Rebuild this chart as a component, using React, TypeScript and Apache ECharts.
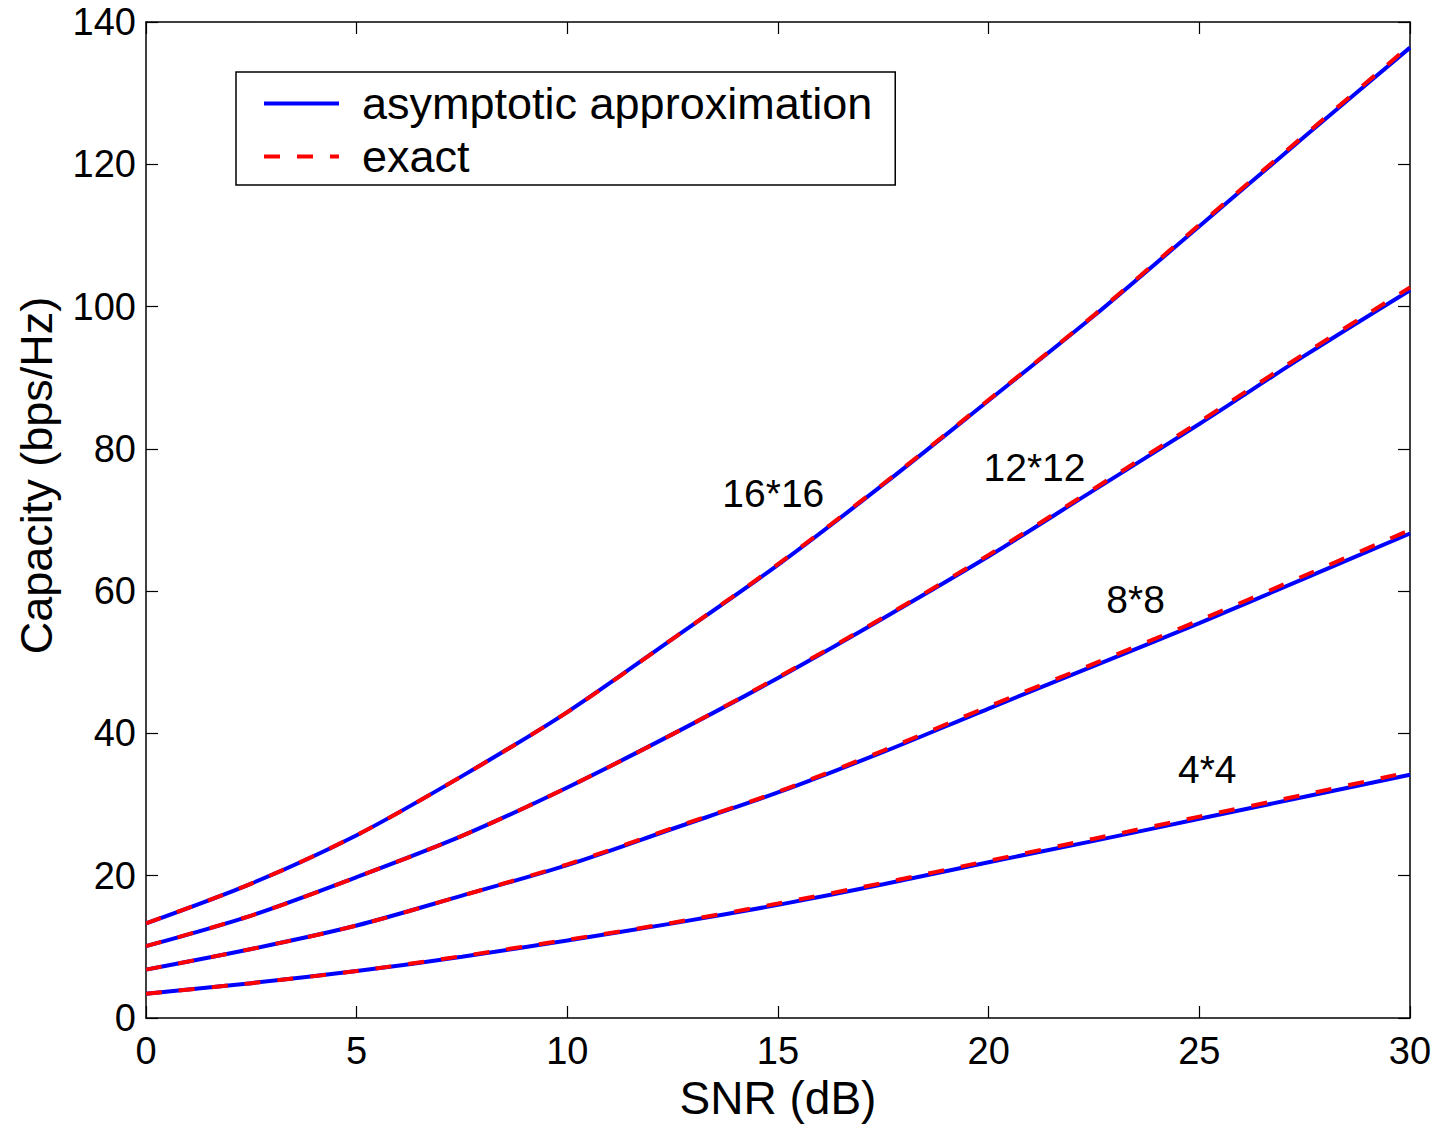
import React, { useEffect, useRef } from "react";
import * as echarts from "echarts";

const snr = [0, 2.5, 5, 7.5, 10, 12.5, 15, 17.5, 20, 22.5, 25, 27.5, 30];

const asym16 = [13.3, 18.9, 25.7, 34.0, 43.0, 53.3, 63.7, 75.0, 86.8, 98.7, 111.3, 123.9, 136.4];
const exact16 = [13.3, 18.9, 25.7, 34.0, 43.0, 53.3, 63.8, 75.1, 86.9, 98.8, 111.5, 124.1, 136.7];
const asym12 = [10.1, 14.4, 19.8, 25.6, 32.4, 39.9, 47.8, 56.2, 64.9, 74.2, 83.5, 93.1, 102.3];
const exact12 = [10.1, 14.4, 19.8, 25.6, 32.4, 39.9, 47.9, 56.3, 65.1, 74.4, 83.8, 93.4, 102.7];
const asym8 = [6.8, 9.7, 13.0, 17.2, 21.5, 26.6, 31.7, 37.4, 43.5, 49.5, 55.5, 61.8, 68.1];
const exact8 = [6.8, 9.7, 13.0, 17.2, 21.6, 26.7, 31.8, 37.6, 43.8, 49.8, 55.9, 62.2, 68.6];
const asym4 = [3.4, 4.9, 6.6, 8.6, 10.9, 13.3, 15.9, 18.8, 21.9, 24.9, 28.0, 31.1, 34.2];
const exact4 = [3.4, 4.9, 6.6, 8.7, 11.0, 13.4, 16.1, 19.0, 22.1, 25.2, 28.3, 31.4, 34.6];

const curveLabels = ["16*16", "12*12", "8*8", "4*4"];
const labelX = [14.9, 21.1, 23.5, 25.2];
const labelY = [73.6, 77.3, 58.8, 34.8];

const ASYM = "asymptotic approximation";
const EXACT = "exact";
const FONT = "'Liberation Sans', Arial, Helvetica, sans-serif";

const pair = (ys: number[]) => snr.map((x, i) => [x, ys[i]]);

export default function App() {
  const ref = useRef<HTMLDivElement>(null);
  useEffect(() => {
    if (!ref.current) return;
    const chart = echarts.init(ref.current, undefined, { renderer: "svg" });
    const asymSets = [asym16, asym12, asym8, asym4];
    const exactSets = [exact16, exact12, exact8, exact4];
    const axisLine = { show: true, onZero: false, lineStyle: { color: "#000", width: 1.5 } };
    const tick = { show: true, inside: true, length: 12, lineStyle: { color: "#000", width: 1.2 } };
    const series: any[] = [];
    asymSets.forEach((d) =>
      series.push({
        type: "line",
        name: ASYM,
        data: pair(d),
        smooth: 0.3,
        symbol: "none",
        lineStyle: { color: "#0000ff", width: 4 },
        itemStyle: { color: "#0000ff" },
        silent: true,
      })
    );
    exactSets.forEach((d) =>
      series.push({
        type: "line",
        name: EXACT,
        data: pair(d),
        smooth: 0.3,
        symbol: "none",
        lineStyle: { color: "#ff0000", width: 4, type: [16, 17] },
        itemStyle: { color: "#ff0000" },
        silent: true,
      })
    );
    series.push({
      type: "scatter",
      name: "labels",
      symbolSize: 1,
      itemStyle: { color: "rgba(0,0,0,0)", opacity: 1 },
      silent: true,
      data: curveLabels.map((n, i) => [labelX[i], labelY[i], n]),
      label: {
        show: true,
        position: [0, 0],
        align: "center",
        verticalAlign: "middle",
        formatter: (p: any) => p.data[2],
        fontSize: 39,
        color: "#000",
        opacity: 1,
        fontFamily: FONT,
      },
    });
    chart.setOption({
      animation: false,
      backgroundColor: "#fff",
      grid: { left: 146, right: 30, top: 22, bottom: 106, containLabel: false },
      legend: {
        show: true,
        data: [ASYM, EXACT],
        orient: "vertical",
        left: 236,
        top: 72,
        padding: [9, 23, 6, 26],
        itemGap: 8,
        itemWidth: 75,
        itemHeight: 4,
        borderColor: "#000",
        borderWidth: 1.5,
        borderRadius: 0,
        backgroundColor: "#fff",
        selectedMode: false,
        itemStyle: { opacity: 0 },
        lineStyle: { width: 4 },
        textStyle: { fontSize: 45, lineHeight: 44, color: "#000", fontFamily: FONT, padding: [0, 0, 0, 18] },
      },
      xAxis: [
        {
          type: "value",
          min: 0,
          max: 30,
          interval: 5,
          position: "bottom",
          name: "SNR (dB)",
          nameLocation: "middle",
          nameGap: 57,
          nameTextStyle: { fontSize: 46, color: "#000", fontFamily: FONT },
          axisLine,
          axisTick: tick,
          splitLine: { show: false },
          axisLabel: { fontSize: 38, color: "#000", fontFamily: FONT, margin: 14 },
        },
        {
          type: "value",
          min: 0,
          max: 30,
          interval: 5,
          position: "top",
          axisLine,
          axisTick: tick,
          splitLine: { show: false },
          axisLabel: { show: false },
        },
      ],
      yAxis: [
        {
          type: "value",
          min: 0,
          max: 140,
          interval: 20,
          position: "left",
          name: "Capacity (bps/Hz)",
          nameLocation: "middle",
          nameGap: 87,
          nameTextStyle: { fontSize: 45, color: "#000", fontFamily: FONT, padding: [0, 0, 0, 89] },
          axisLine,
          axisTick: tick,
          splitLine: { show: false },
          axisLabel: { fontSize: 38, color: "#000", fontFamily: FONT, margin: 10 },
        },
        {
          type: "value",
          min: 0,
          max: 140,
          interval: 20,
          position: "right",
          axisLine,
          axisTick: tick,
          splitLine: { show: false },
          axisLabel: { show: false },
        },
      ],
      series,
    });
    return () => chart.dispose();
  }, []);
  return (
    <div
      ref={ref}
      style={{ position: "fixed", left: 0, top: 0, width: 1440, height: 1126, background: "#fff" }}
    />
  );
}
